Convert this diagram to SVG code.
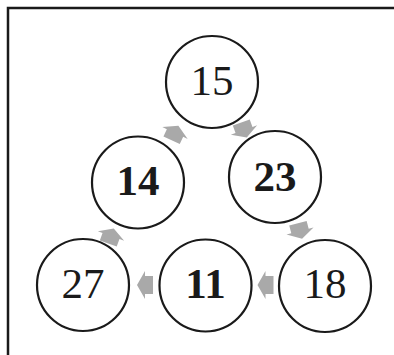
<svg xmlns="http://www.w3.org/2000/svg" width="394" height="355" viewBox="0 0 394 355">
<style>
.n{fill:#fff;stroke:#1a1a1a;stroke-width:2.2}
.t{font-family:"Liberation Serif","Times New Roman",serif;font-size:43px;fill:#1a1a1a;text-anchor:middle}
.b{font-weight:bold}
.a{fill:#a9a9a9}
</style>
<defs>
<path id="arr" d="M-8,-9 L0,-9 L0,-14 L8,0 L0,14 L0,9 L-8,9 Z"/>
</defs>
<rect width="394" height="355" fill="#fff"/>
<path d="M8,355 L8,8 L394,8" fill="none" stroke="#1a1a1a" stroke-width="2.5"/>
<g id="connectors">
<use href="#arr" class="a" transform="translate(175,133) rotate(-65)"/>
<use href="#arr" class="a" transform="translate(244,130) rotate(70)"/>
<use href="#arr" class="a" transform="translate(300,231) rotate(75)"/>
<use href="#arr" class="a" transform="translate(111,236) rotate(-70)"/>
<use href="#arr" class="a" transform="translate(145,285) rotate(180)"/>
<use href="#arr" class="a" transform="translate(265.5,285) rotate(180)"/>
</g>
<g id="n15"><circle class="n" cx="212" cy="82" r="46"/><text class="t" x="212" y="95">15</text></g>
<g id="n14"><circle class="n" cx="138" cy="182.5" r="46"/><text class="t b" x="138" y="195">14</text></g>
<g id="n23"><circle class="n" cx="275" cy="177" r="46"/><text class="t b" x="275" y="191">23</text></g>
<g id="n27"><circle class="n" cx="83" cy="285" r="46"/><text class="t" x="83" y="298">27</text></g>
<g id="n11"><circle class="n" cx="205.5" cy="285.5" r="46"/><text class="t b" x="205.5" y="298">11</text></g>
<g id="n18"><circle class="n" cx="325" cy="286" r="46"/><text class="t" x="325" y="298">18</text></g>
</svg>
